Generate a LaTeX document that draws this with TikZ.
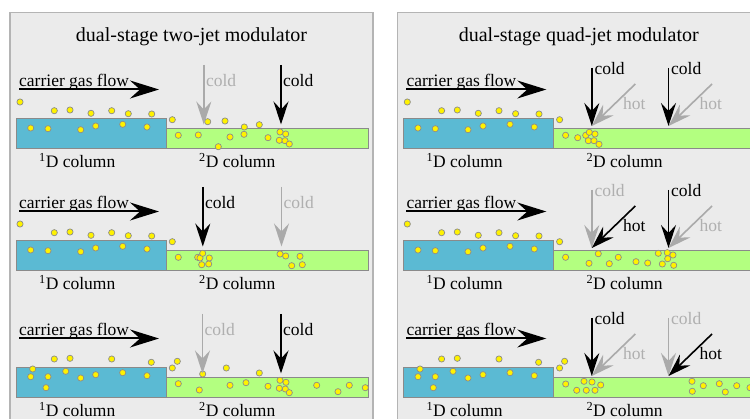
\documentclass[tikz,border=0pt]{standalone}
\usepackage{fontspec}
\setmainfont{Liberation Serif}
\newfontfamily\labelserif{Liberation Serif}
\usetikzlibrary{arrows.meta}
\definecolor{panelbg}{HTML}{EBEBEB}
\definecolor{panelline}{HTML}{B4B4B4}
\definecolor{colblue}{HTML}{5BBAD3}
\definecolor{colgreen}{HTML}{B3FF80}
\definecolor{colline}{HTML}{8A8A8A}
\definecolor{dotfill}{HTML}{FFF200}
\definecolor{dotline}{HTML}{8C8C8C}
\definecolor{jetgray}{HTML}{AAAAAA}
\definecolor{txtgray}{HTML}{AFAFAF}
\newcommand\putdots[1]{\foreach \q in {#1} {\filldraw[analyte] \q circle (3.1);}}
\newcommand\mkljet[4]{%
  \coordinate (#1s) at (#2,65); \coordinate (#1e) at (#2,124.5);
  \draw[#3] (#1s) -- (#1e);
  \node[lbl,text=#4] (#1t) at (#2+2,87) {cold};}
\newcommand\mkrcold[4]{%
  \coordinate (#1s) at (#2,68); \coordinate (#1e) at (#2,126);
  \draw[#3] (#1s) -- (#1e);
  \node[lbl,text=#4] (#1t) at (#2+2.5,74.5) {cold};}
\newcommand\mkrhot[4]{%
  \coordinate (#1s) at (#2+43.5,84); \coordinate (#1e) at (#2,126);
  \draw[#3] (#1s) -- (#1e);
  \node[lbl,text=#4] (#1t) at (#2+31,110) {hot};}
\begin{document}
\begin{tikzpicture}[x=1pt,y=-1pt,
  panel/.style={fill=panelbg,draw=panelline,line width=1.3pt},
  colone/.style={fill=colblue,draw=colline,line width=1pt},
  coltwo/.style={fill=colgreen,draw=colline,line width=1pt},
  analyte/.style={fill=dotfill,draw=dotline,line width=0.7pt},
  lbl/.style={font=\labelserif\fontsize{17.5}{20}\selectfont,inner sep=0pt,anchor=base west},
  ttl/.style={font=\labelserif\fontsize{20}{24}\selectfont,inner sep=0pt,anchor=base},
  flowarrow/.style={line width=2pt,-{Stealth[length=29pt,width=18pt,inset=10pt]}},
  jetblack/.style={draw=black,line width=1.6pt,-{Stealth[length=23pt,width=15pt,inset=8pt]}},
  jetgrey/.style={draw=jetgray,line width=1.6pt,-{Stealth[length=23pt,width=15pt,inset=8pt]}},
]
\useasboundingbox (0,0) rectangle (750,419);
\begin{scope}
\clip (0,0) rectangle (750,419);
\fill[white] (0,0) rectangle (750,419);
\draw[panel] (10,12.5) rectangle (373,440);
\draw[panel] (397.3,12.5) rectangle (760,440);
\node[ttl] (ttlL) at (191.5,42) {dual-stage two-jet modulator};
\node[ttl] (ttlR) at (578.8,42) {dual-stage quad-jet modulator};
\foreach \p/\dx in {L/0,R/387.3} {
  \foreach \r/\dy in {1/0,2/122,3/249} {
    \begin{scope}[shift={(\dx,\dy)}]
      \draw[colone] (16,119) rectangle (166,149);
      \draw[coltwo] (166,129) rectangle (368,149);
      \ifnum\r<3
        \putdots{(20,102),(54.3,110.7),(70,110),(91,113.3),(111.7,110.7),(128.3,113.7),(151.7,114),(172.3,119.7),(30.7,128),(48,128.7),(80.7,129.7),(95.7,126),(122.7,124.3),(147,127),(178.3,135.3)}
      \else
        \putdots{(54.3,110),(70,109.3),(111.7,110),(151.3,113.3),(177.3,112.3),(172.3,119),(32.7,120),(30.7,127.7),(48,127.7),(65.7,122.3),(80.7,129),(95.7,125.7),(122.7,123.7),(147,126.7),(46,138.7)}
      \fi
      \node[lbl] (car\p\r) at (19,86.5) {carrier gas flow};
      \coordinate (carS\p\r) at (19,89.5);
      \coordinate (carE\p\r) at (159,89.5);
      \draw[flowarrow] (carS\p\r) -- (carE\p\r);
      \node[lbl] (one\p\r) at (39,168) {\textsuperscript{1}D column};
      \node[lbl] (two\p\r) at (199,168) {\textsuperscript{2}D column};
    \end{scope}
  }
}
% green-column analyte dots
\putdots{(198.3,135),(207.7,121.7),(225,121),(230,137),(244.3,127),(244,134.3),(259.3,124.7),(218.3,146.7),(268,137.7),(280,132),(285.7,134),(279.3,140.3),(285,140.7),(289.3,144)}
\putdots{(197.7,257.3),(200,258),(202.7,253.3),(209.3,258),(201.7,264.7),(208.7,264),(280,254),(285.7,256),(300,256.3),(291.7,265.7),(302.3,264.7)}
\putdots{(202.7,374),(226.3,368),(259.3,373),(178.3,383.7),(199.3,390),(230,385.3),(246,382.7),(268,386.3),(280,380.3),(286,382.3),(279.3,388.3),(285.3,389),(289.3,392.7),(316.7,385.3),(338,391.7),(349.3,385.3),(365.3,387.7)}
\putdots{(585.7,135.3),(577.7,137.7),(589.3,132.3),(595,134),(588.3,140.7),(594,140.7),(599,144.3)}
\putdots{(598.3,253.7),(589,263.3),(609.3,263.7),(618.3,257.3),(636,261.7),(647.7,263),(658.3,253.3),(667.3,252.7),(673,255),(667.7,258.7),(662.3,264),(673.7,265.3)}
\putdots{(565.7,384),(584,381.3),(592,382),(600.7,385),(576.7,390.3),(586.3,390.3),(595,390.3),(692,381.3),(692.3,391.3),(703.3,385.7),(719.3,383.7),(725.3,392),(736.7,385.7),(750,387.7)}
% left panel jets
\mkljet{la1}{203.8}{jetgrey}{txtgray}
\mkljet{lb1}{281}{jetblack}{black}
\begin{scope}[shift={(0,122)}]
\mkljet{la2}{202.8}{jetblack}{black}
\mkljet{lb2}{281.5}{jetgrey}{txtgray}
\end{scope}
\begin{scope}[shift={(0,249)}]
\mkljet{la3}{202.5}{jetgrey}{txtgray}
\mkljet{lb3}{281}{jetblack}{black}
\end{scope}
% right panel jets
\mkrhot{rha1}{591.8}{jetgrey}{txtgray}
\mkrhot{rhb1}{668.5}{jetgrey}{txtgray}
\mkrcold{rca1}{591.8}{jetblack}{black}
\mkrcold{rcb1}{668.5}{jetblack}{black}
\begin{scope}[shift={(0,122)}]
\mkrcold{rca2}{591.8}{jetgrey}{txtgray}
\mkrhot{rha2}{591.8}{jetblack}{black}
\mkrhot{rhb2}{668.5}{jetgrey}{txtgray}
\mkrcold{rcb2}{668.5}{jetblack}{black}
\end{scope}
\begin{scope}[shift={(0,250)}]
\mkrhot{rha3}{591.8}{jetgrey}{txtgray}
\mkrcold{rca3}{591.8}{jetblack}{black}
\mkrcold{rcb3}{668.5}{jetgrey}{txtgray}
\mkrhot{rhb3}{668.5}{jetblack}{black}
\end{scope}
\end{scope}
\end{tikzpicture}
\end{document}
